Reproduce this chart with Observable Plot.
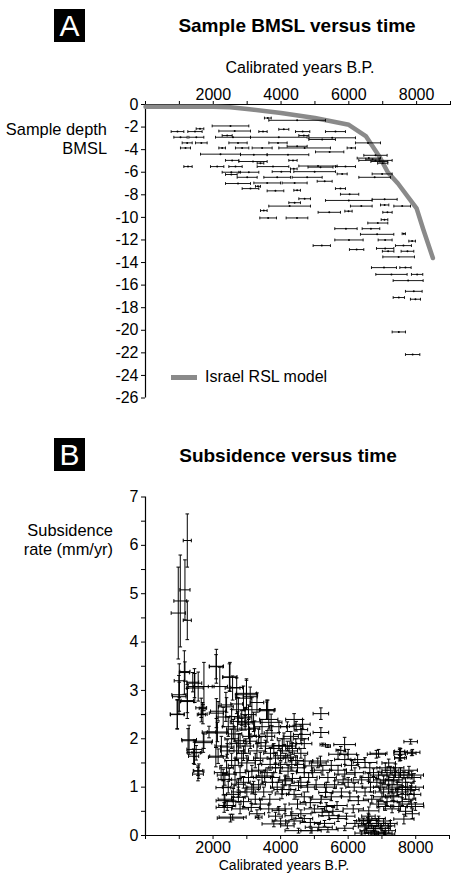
<!DOCTYPE html>
<html><head><meta charset="utf-8">
<script src="https://cdn.jsdelivr.net/npm/d3@7"></script>
<script src="https://cdn.jsdelivr.net/npm/@observablehq/plot@0.6"></script>
<style>
html,body{margin:0;padding:0;background:#fff;}
body{width:466px;height:873px;overflow:hidden;position:relative;font-family:"Liberation Sans",Arial,sans-serif;color:#000;}
.abs{position:absolute;white-space:nowrap;}
.box{position:absolute;background:#000;color:#fff;font-size:30px;text-align:center;}
.title{font-weight:bold;font-size:19px;line-height:19px;transform:translateX(-50%);}
.lab{font-size:16px;line-height:16px;}
.ylab{font-size:16.4px;line-height:19px;text-align:right;}
</style></head><body>
<div class="box" style="left:54px;top:9px;width:31px;height:33px;line-height:33px;">A</div>
<div class="abs title" style="left:297px;top:16px;">Sample BMSL versus time</div>
<div class="abs lab" style="left:300px;top:60px;transform:translateX(-50%);">Calibrated years B.P.</div>
<div class="abs ylab" style="right:359px;top:120px;">Sample depth<br>BMSL</div>
<div id="plotA" class="abs" style="left:0;top:80px;"></div>
<div class="abs" style="left:171px;top:375px;width:26px;height:4.5px;background:#8a8a8a;"></div>
<div class="abs lab" style="left:205px;top:369px;">Israel RSL model</div>

<div class="box" style="left:54px;top:438px;width:31px;height:33px;line-height:33px;">B</div>
<div class="abs title" style="left:288px;top:446px;">Subsidence versus time</div>
<div class="abs ylab" style="right:353px;top:521px;">Subsidence<br>rate (mm/yr)</div>
<div id="plotB" class="abs" style="left:0;top:480px;"></div>
<div class="abs" style="left:284px;top:858px;transform:translateX(-50%);font-size:14px;line-height:14px;">Calibrated years B.P.</div>

<script>
// ---------- Panel A data ----------
const aXTicks = [0,1000,2000,3000,4000,5000,6000,7000,8000,9000];
const aXLabels = [2000,4000,6000,8000];
const aYTicks = [0,-2,-4,-6,-8,-10,-12,-14,-16,-18,-20,-22,-24,-26];

const rslYear  = [0,1000,2000,2500,3000,4000,5000,6000,6500,6900,7150,7450,7750,8000,8200,8480];
const rslDepth = [-0.2,-0.2,-0.2,-0.25,-0.4,-0.75,-1.2,-1.8,-2.8,-4.6,-6.0,-7.0,-8.2,-9.2,-11.1,-13.6];

const aYear = [3610,4475,2508,1608,2631,944,1460,3467,4081,4637,
5606,1033,1500,2582,2410,3934,4672,5213,5508,1230,
1647,2730,3910,2262,1180,2852,3442,4696,4475,5434,
6073,6565,2213,3196,4204,2557,3172,4352,6590,6786,
6786,1254,2115,2656,3762,5090,5164,5901,4377,3393,
2532,3049,4008,4991,5803,2533,3000,3885,4770,6762,
6983,2730,3590,4401,5287,3319,3098,3835,4475,5753,
6023,4696,5999,7057,4401,4253,6368,7057,7574,3491,
5423,5990,7140,3619,4470,7052,6855,5915,6653,6835,
7622,6004,7071,7868,5202,7612,6230,7072,7160,7730,
7470,7037,7671,7258,8015,7750,7917,7475,7966,7475,
7883,6900,6700,7000];
const aYearErr = [100,836,541,113,467,187,211,123,148,211,
295,197,221,516,148,836,148,393,688,148,
172,270,270,98,148,197,295,762,295,418,
123,369,590,393,615,197,418,123,344,344,
492,123,197,197,467,566,369,295,98,98,
270,295,270,615,148,172,295,393,443,467,
295,369,393,369,221,74,246,246,98,148,
270,172,688,369,172,615,320,123,246,98,
330,108,138,246,320,98,295,330,260,492,
49,418,206,98,256,236,212,256,170,187,
467,369,167,462,167,443,246,167,148,197,
212,250,200,150];
const aDepth = [-1.2,-1.4,-1.9,-2.15,-2.35,-2.4,-2.4,-2.4,-2.2,-2.4,
-2.4,-2.9,-2.9,-2.9,-2.75,-2.9,-2.75,-3.1,-2.95,-3.4,
-3.4,-3.4,-3.4,-3.85,-3.85,-3.85,-3.85,-3.85,-3.7,-4.2,
-3.85,-3.4,-4.4,-4.45,-4.45,-4.95,-5.05,-4.95,-4.75,-4.5,
-4.95,-5.5,-5.5,-5.5,-5.5,-5.45,-5.55,-5.5,-5.7,-5.2,
-6.0,-6.0,-5.95,-5.95,-6.15,-6.2,-6.45,-6.45,-6.45,-6.45,
-6.15,-7.0,-6.95,-6.95,-6.8,-7.25,-7.45,-7.65,-7.6,-7.45,
-7.95,-8.35,-8.5,-8.4,-8.7,-9.0,-9.0,-8.9,-9.0,-9.4,
-9.55,-9.45,-9.55,-10.05,-10.05,-10.2,-10.5,-11.0,-11.0,-11.5,
-11.45,-12.0,-12.0,-12.1,-12.5,-12.5,-12.85,-12.75,-13.0,-13.0,
-13.5,-14.45,-14.45,-15.05,-15.05,-15.6,-16.55,-17.1,-17.25,-20.15,
-22.15,-5.05,-4.85,-5.2];

// ---------- Panel B data ----------
const bXTicks = [0,1000,2000,3000,4000,5000,6000,7000,8000,9000];
const bXLabels = [2000,4000,6000,8000];
const bYTicks = [0,0.5,1,1.5,2,2.5,3,3.5,4,4.5,5,5.5,6,6.5,7];

const bYear = [1237,1168,1030,970,1237,1150,1000,1000,940,1450,
1460,1237,1730,2098,2484,2578,2989,2900,3593,5192,
2380,2098,1650,1653,5192,1290,1450,1425,1712,1554,
1554,2098,2083,2246,2239,2306,2330,2330,2514,3618,
3650,2727,5247,5895,5781,6836,7525,7880,7850,7525,
7525,2090,1168,2500,1400,1560,2200,2700,990,2990,
3100,1240,2700,2400,1690,3585,2150,940,1700,2550,
2850,3720,2950,2850,4460,3230,4600,1880,2130,3740,
2650,4630,3080,4600,1260,1730,2800,3420,5400,4050,
2420,1450,1500,2150,2420,6900,7550,7900,7550,5700,
6000,5900,6280,5180,4720,6500,4330,3690,4920,6640,
7100,1580,3150,4220,7380,2480,5900,7880,3530,4830,
5400,2350,4130,7200,3760,2750,4530,6180,5350,6660,
7880,7200,3150,5330,4040,7300,2750,2350,3680,6300,
4880,7880,5670,2420,7990,3130,4130,3950,6610,5230,
4330,5430,2580,3350,6610,7650,6580,4880,3800,6600,
7180,5130,6800,4530,7200,6780,7080,2600,2750,2900,
3000,2650,2800,3300,3400,3550,3800,3950,4200,4350,
4450,3850,4000,4150,4350,3350,3500,2900,3250,4500,
4700,4600,5000,5500,5800,6000,5700,6200,6900,7050,
7300,7500,7700,7450,7700,7000,7150,7600,7900,7700,
6850,6500,7000,6700,2450,2600,3050,3200,4100,4300,
2300,2450,2550,2700,2850,2950,3100,3250,3350,3450,
2650,2550,2400,2300,2900,3050,3200,3000,2750,2600,
2800,3400,3300,3050,3150,3350,3450,2950,2750,3300,
3600,3700,3850,4000,4150,4300,4450,4600,4700,3600,
3750,3900,4050,4250,4400,4600,4700,3650,3850,4000,
4200,4400,4700,4800,4500,4250,3950,4200,4400,4650,
4950,5050,5200,5350,5550,5700,5300,5600,5850,6050,
6150,5950,5500,6100,5250,4900,5400,5900,6200,5100,
6600,6750,6850,6950,7050,7150,7250,7350,7450,7550,
7650,7750,7850,7950,7800,7400,7100,7300,7500,7800,
6900,6700,6500,6400,7200,7600,7950,7350,6450,6550,
6650,6750,6850,6950,7050,6600,6900,7100,6400,7250];
const bYearErr = [120,150,190,210,120,150,200,150,200,215,
250,200,300,210,200,220,300,230,220,230,
220,210,160,120,230,220,215,150,250,160,
140,300,220,190,200,220,240,240,390,220,
270,220,80,320,140,270,170,130,200,150,
150,200,150,210,175,300,225,175,210,330,
210,185,175,160,100,220,225,210,125,175,
220,320,210,125,200,150,200,200,300,225,
200,250,200,225,175,250,175,150,75,275,
200,225,125,250,200,250,200,225,175,275,
250,300,200,225,225,350,350,250,225,300,
250,150,200,250,400,200,300,350,250,250,
250,200,200,250,300,200,250,250,300,250,
350,275,200,200,200,200,200,200,300,300,
300,350,300,250,250,250,200,200,300,300,
200,300,400,100,300,300,250,300,350,300,
200,400,300,400,200,300,300,200,250,200,
250,200,175,250,200,225,250,200,250,200,
175,200,250,200,225,200,250,225,200,250,
250,300,300,300,250,300,250,250,250,300,
300,300,250,250,250,250,300,250,200,200,
250,200,250,200,175,200,225,200,200,225,
200,175,200,225,200,250,200,225,200,250,
175,200,200,175,200,225,200,200,200,225,
250,250,225,200,225,200,225,175,200,200,
225,200,225,200,225,200,225,200,225,200,
225,200,250,200,225,200,225,250,200,250,
200,250,250,200,200,250,225,200,250,225,
250,250,300,250,300,250,300,300,250,250,
300,250,300,200,250,300,300,250,250,250,
250,250,250,200,250,250,250,250,250,250,
250,250,250,200,250,250,250,250,250,200,
250,250,250,250,200,200,200,250,200,200,
250,200,200,250,200,200,200,200,200,200];
const bRate = [6.1,5.08,4.85,4.6,4.45,3.37,2.87,3.2,2.5,3.15,
3.05,2.77,3.08,3.5,3.27,3.05,2.94,2.84,2.6,2.52,
2.66,2.53,2.64,2.5,2.13,1.98,1.72,1.64,1.92,1.27,
1.34,2.12,1.62,1.85,1.3,0.99,0.72,0.58,0.36,2.6,
2.4,2.36,1.88,1.88,1.76,1.68,1.68,1.7,1.94,1.74,
1.6,3.49,3.39,3.28,3.17,3.08,3.08,3.06,2.91,2.91,
2.87,2.79,2.72,2.7,2.63,2.58,2.57,2.51,2.51,2.46,
2.43,2.34,2.33,2.3,2.26,2.22,2.19,2.14,2.14,2.12,
2.1,2.09,2.05,2.0,1.96,1.95,1.96,1.92,1.85,1.85,
1.83,1.78,1.71,1.64,1.75,1.7,1.73,1.72,1.61,1.68,
1.68,1.57,1.57,1.54,1.54,1.51,1.47,1.47,1.44,1.4,
1.4,1.33,1.33,1.33,1.3,1.27,1.27,1.25,1.23,1.2,
1.2,1.16,1.13,1.13,1.1,1.06,1.03,1.0,1.0,1.0,
1.0,0.96,0.96,0.89,0.86,0.82,0.79,0.75,0.75,0.72,
0.68,0.65,0.62,0.62,0.6,0.58,0.55,0.52,0.51,0.48,
0.41,0.41,0.38,0.38,0.34,0.34,0.31,0.27,0.24,0.21,
0.2,0.17,0.14,0.1,0.1,0.07,0.03,2.2,1.9,1.7,
1.5,1.45,1.3,1.75,1.6,1.85,1.8,1.86,1.85,1.8,
1.9,1.4,1.4,1.15,1.18,1.05,0.9,0.7,0.75,0.65,
0.8,0.45,0.55,0.8,0.9,1.1,1.35,1.3,1.25,1.15,
1.05,1.2,1.1,0.9,0.85,0.8,0.7,0.7,0.45,0.5,
0.25,0.18,0.15,0.05,1.0,0.85,2.5,2.35,2.0,2.05,
2.45,2.25,2.0,1.75,1.6,1.85,1.95,1.55,1.35,1.2,
1.15,1.55,1.4,1.25,1.1,1.2,1.0,0.9,0.9,0.7,
0.55,0.65,0.45,2.2,2.6,2.05,2.25,2.45,2.6,2.75,
2.05,1.7,1.6,1.65,1.6,1.62,1.55,1.7,1.9,1.3,
1.2,1.0,0.95,0.95,0.85,1.1,1.3,0.55,0.4,0.3,
0.2,0.3,0.35,1.0,1.4,1.75,2.25,2.25,2.4,2.3,
1.3,1.05,0.75,0.6,0.5,0.35,0.25,1.05,1.15,0.8,
0.55,0.4,1.45,1.45,1.35,0.1,0.12,0.15,0.25,1.5,
1.2,1.3,1.1,1.0,0.9,1.25,1.35,1.15,1.0,1.3,
1.25,1.0,0.95,1.2,1.35,1.4,0.6,0.55,0.6,0.75,
0.65,0.75,0.9,1.15,1.5,0.95,0.85,0.8,0.3,0.1,
0.25,0.15,0.05,0.2,0.3,0.4,0.35,0.05,0.05,0.25];
const bRateErr = [0.55,0.62,0.95,0.95,0.4,0.45,0.3,0.35,0.3,0.3,
0.3,0.35,0.5,0.35,0.28,0.25,0.3,0.25,0.2,0.12,
0.3,0.3,0.2,0.15,0.1,0.3,0.25,0.15,0.2,0.14,
0.1,0.3,0.2,0.2,0.15,0.15,0.12,0.1,0.08,0.2,
0.2,0.2,0.03,0.15,0.08,0.08,0.1,0.05,0.05,0.07,
0.06,0.25,0.2,0.3,0.2,0.3,0.4,0.2,0.4,0.3,
0.2,0.25,0.2,0.15,0.12,0.18,0.2,0.3,0.2,0.15,
0.15,0.17,0.15,0.12,0.1,0.15,0.1,0.12,0.2,0.15,
0.15,0.12,0.15,0.1,0.25,0.15,0.15,0.12,0.03,0.15,
0.15,0.15,0.15,0.15,0.15,0.08,0.07,0.06,0.06,0.1,
0.1,0.1,0.1,0.1,0.12,0.1,0.12,0.12,0.1,0.1,
0.1,0.15,0.12,0.12,0.1,0.12,0.1,0.08,0.12,0.1,
0.1,0.12,0.1,0.1,0.12,0.12,0.1,0.08,0.1,0.1,
0.08,0.1,0.1,0.1,0.1,0.1,0.1,0.1,0.1,0.08,
0.1,0.08,0.08,0.1,0.08,0.08,0.1,0.08,0.08,0.08,
0.08,0.08,0.06,0.04,0.06,0.1,0.06,0.08,0.06,0.06,
0.05,0.06,0.05,0.05,0.05,0.04,0.03,0.2,0.2,0.15,
0.15,0.15,0.12,0.15,0.12,0.12,0.1,0.1,0.1,0.12,
0.1,0.1,0.12,0.1,0.1,0.1,0.1,0.1,0.1,0.1,
0.1,0.08,0.08,0.08,0.08,0.1,0.1,0.1,0.08,0.08,
0.1,0.1,0.1,0.08,0.1,0.08,0.08,0.08,0.1,0.1,
0.06,0.05,0.05,0.04,0.12,0.12,0.2,0.2,0.12,0.1,
0.2,0.2,0.2,0.18,0.15,0.15,0.15,0.15,0.12,0.12,
0.12,0.15,0.15,0.12,0.12,0.12,0.12,0.1,0.1,0.1,
0.1,0.1,0.08,0.2,0.25,0.15,0.15,0.2,0.25,0.2,
0.12,0.12,0.12,0.1,0.1,0.1,0.1,0.1,0.1,0.1,
0.1,0.1,0.1,0.1,0.1,0.1,0.1,0.08,0.08,0.06,
0.06,0.06,0.06,0.1,0.1,0.1,0.12,0.1,0.12,0.1,
0.1,0.1,0.08,0.08,0.08,0.06,0.06,0.08,0.08,0.08,
0.08,0.06,0.1,0.1,0.1,0.05,0.05,0.05,0.06,0.1,
0.08,0.08,0.08,0.08,0.1,0.1,0.08,0.1,0.1,0.1,
0.08,0.1,0.08,0.08,0.08,0.08,0.08,0.08,0.08,0.1,
0.08,0.08,0.08,0.08,0.08,0.08,0.08,0.08,0.06,0.05,
0.05,0.05,0.04,0.05,0.05,0.06,0.05,0.04,0.04,0.06];

// ---------- helpers ----------
const FONT = '"Liberation Sans", Arial, sans-serif';
const vTick = {draw(ctx, size){const r = Math.sqrt(size/Math.PI); ctx.moveTo(0,-r); ctx.lineTo(0,r);}};
const hTick = {draw(ctx, size){const r = Math.sqrt(size/Math.PI); ctx.moveTo(-r,0); ctx.lineTo(r,0);}};

const rsl = rslYear.map((x,i)=>({x, y: rslDepth[i]}));
const aRows = aYear.map((x,i)=>({x, e: aYearErr[i], y: aDepth[i]}));
const bRows = bYear.map((x,i)=>({x, xe: bYearErr[i], y: bRate[i], ye: bRateErr[i]}));

const plotA = Plot.plot({
  width: 466, height: 328,
  marginLeft: 145, marginRight: 16, marginTop: 24, marginBottom: 10.5,
  style: {fontFamily: FONT, fontSize: "16px", color: "#000", background: "transparent", overflow: "visible"},
  x: {domain: [0, 9000]},
  y: {domain: [-26, 0]},
  marks: [
    Plot.axisX({anchor: "top", ticks: aXTicks, tickFormat: d => aXLabels.includes(d) ? String(d) : "", tickSize: 4, tickPadding: 1, label: null, fontSize: 16}),
    Plot.axisY({anchor: "left", ticks: aYTicks, tickFormat: d => String(d), tickSize: 4, tickPadding: 3, label: null, fontSize: 16}),
    Plot.ruleX([0], {stroke: "#000", strokeWidth: 1.2}),
    Plot.ruleY([0], {stroke: "#000", strokeWidth: 1.2}),
    Plot.line(rsl, {x: "x", y: "y", stroke: "#8a8a8a", strokeWidth: 4.5, strokeLinejoin: "round"}),
    Plot.link(aRows, {x1: d => d.x - d.e, x2: d => d.x + d.e, y1: "y", y2: "y", stroke: "#000", strokeWidth: 0.9}),
    Plot.dot(aRows, {x: d => d.x - d.e, y: "y", symbol: vTick, r: 1.4, stroke: "#000", fill: "none", strokeWidth: 0.9}),
    Plot.dot(aRows, {x: d => d.x + d.e, y: "y", symbol: vTick, r: 1.4, stroke: "#000", fill: "none", strokeWidth: 0.9}),
    Plot.dot(aRows, {x: "x", y: "y", r: 1, fill: "#000", stroke: "none"})
  ]
});
document.getElementById("plotA").appendChild(plotA);

const plotB = Plot.plot({
  width: 466, height: 393,
  marginLeft: 145, marginRight: 17, marginTop: 16.5, marginBottom: 38,
  style: {fontFamily: FONT, fontSize: "16px", color: "#000", background: "transparent", overflow: "visible"},
  x: {domain: [0, 9000]},
  y: {domain: [0, 7]},
  marks: [
    Plot.axisX({anchor: "bottom", ticks: bXTicks, tickFormat: d => bXLabels.includes(d) ? String(d) : "", tickSize: 4, tickPadding: 2, label: null, fontSize: 16}),
    Plot.axisY({anchor: "left", ticks: bYTicks, tickFormat: d => Number.isInteger(d) ? String(d) : "", tickSize: 4, tickPadding: 3, label: null, fontSize: 16}),
    Plot.ruleX([0], {stroke: "#000", strokeWidth: 1.2}),
    Plot.ruleY([0], {stroke: "#000", strokeWidth: 1.2}),
    Plot.link(bRows, {x1: d => d.x - d.xe, x2: d => d.x + d.xe, y1: "y", y2: "y", stroke: "#000", strokeWidth: 1}),
    Plot.link(bRows, {x1: "x", x2: "x", y1: d => Math.max(0, d.y - d.ye), y2: d => d.y + d.ye, stroke: "#000", strokeWidth: 1}),
    Plot.dot(bRows, {x: d => d.x - d.xe, y: "y", symbol: vTick, r: 1.8, stroke: "#000", fill: "none", strokeWidth: 1}),
    Plot.dot(bRows, {x: d => d.x + d.xe, y: "y", symbol: vTick, r: 1.8, stroke: "#000", fill: "none", strokeWidth: 1}),
    Plot.dot(bRows, {x: "x", y: d => d.y + d.ye, symbol: hTick, r: 1.8, stroke: "#000", fill: "none", strokeWidth: 1}),
    Plot.dot(bRows, {x: "x", y: d => Math.max(0, d.y - d.ye), symbol: hTick, r: 1.8, stroke: "#000", fill: "none", strokeWidth: 1})
  ]
});
document.getElementById("plotB").appendChild(plotB);
</script>
</body></html>
